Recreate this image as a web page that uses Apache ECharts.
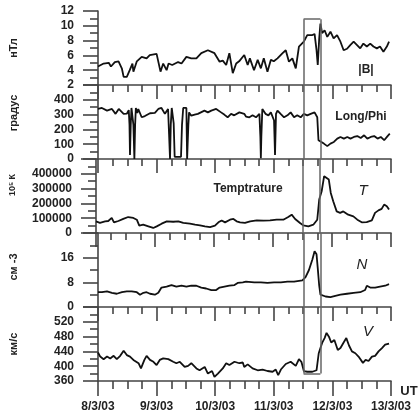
<!DOCTYPE html>
<html>
<head>
<meta charset="utf-8">
<script src="https://cdn.jsdelivr.net/npm/echarts/dist/echarts.min.js"></script>
<style>
  html, body { margin: 0; padding: 0; background: #fff; }
  #chart { width: 419px; height: 420px; }
</style>
</head>
<body>
<div id="chart"></div>
<script type="text/javascript">
// time axis: hours since 8/3/03 00:00 UT
var dateLabels = ['8/3/03', '9/3/03', '10/3/03', '11/3/03', '12/3/03', '13/3/03'];

// |B|, nT
var fieldB = [
  [0,4.5],[2.3,4.9],[4.4,5.0],[5.3,4.5],[6.9,5.1],[8.4,5.2],[9.8,4.2],[10.5,3.1],[11.8,3.1],[13.0,4.0],
  [14.1,4.9],[14.5,3.8],[15.9,5.2],[17.9,5.8],[19.9,5.6],[21.2,6.05],[24,6.2],[24.7,6.05],[25.6,3.8],[26.7,4.9],
  [28.1,4.0],[28.9,4.9],[30.4,4.7],[32.8,5.1],[34.2,4.9],[36.2,5.8],[38.2,5.6],[40.3,5.6],[42.3,6.3],[45,6.7],
  [45.7,6.6],[47.7,6.3],[49.8,5.15],[51.1,5.3],[52.5,4.7],[53.8,6.3],[55.2,3.6],[56.6,4.9],[57.8,5.2],[59.9,6.05],
  [61.3,4.7],[62.2,5.6],[63.9,4.0],[65.4,5.4],[66.7,4.25],[67.9,5.6],[69.4,3.8],[70.8,5.4],[72,5.2],[73.5,5.6],
  [75.6,6.3],[76.9,6.7],[78.2,5.15],[79.6,5.6],[81,4.25],[82.3,7.2],[84.3,7.85],[85.7,8.75],[87.8,8.75],[88.7,8.9],
  [89.5,6.7],[90,4.7],[90.6,8.3],[91.1,10.3],[91.8,9.0],[92.8,9.4],[93.9,8.5],[95.2,9.2],[96.5,8.3],[97.9,8.75],
  [99.3,7.85],[100.6,6.7],[102,6.9],[103.3,7.4],[104.7,7.85],[106.1,7.4],[107.4,6.95],[108.7,7.6],[110.1,7.2],[111.5,7.6],
  [112.8,7.2],[114.2,6.95],[115.5,7.2],[116.9,6.5],[118.3,7.2],[119.2,7.85]
];

// Long/Phi, degrees
var longPhi = [
  [0,338],[1.6,345],[3.7,327],[5.7,338],[7.2,305],[8.5,338],[10.5,305],[11.8,306],[12.6,330],[12.9,230],
  [13.1,27],[13.4,230],[13.7,345],[14.2,345],[14.5,230],[14.9,0],[15.2,230],[15.5,345],[16.1,310],[16.5,338],
  [17.9,282],[19.2,290],[21.3,309],[23.3,312],[24.7,338],[26,345],[27.4,305],[28.7,338],[29.3,338],[29.5,0],
  [29.8,230],[30.2,345],[30.8,345],[31.0,240],[31.4,15],[34.0,15],[34.4,230],[34.9,345],[36.2,345],[36.5,0],
  [37.0,230],[37.3,315],[38.2,293],[39.6,300],[40.9,305],[43.6,327],[45,315],[46.4,327],[48.4,338],[50.4,315],
  [51.7,300],[53.1,282],[54.5,305],[55.8,295],[57.9,315],[59.9,305],[60.6,287],[62.0,282],[63.3,295],[64.7,282],
  [66.1,305],[66.5,150],[66.7,5],[66.9,150],[67.3,338],[68.1,327],[68.6,305],[69.8,295],[70.8,315],[72.1,260],
  [72.5,27],[72.9,305],[73.5,327],[74.8,305],[76.2,282],[77.6,295],[78.9,315],[80.3,282],[81.6,295],[83,282],
  [84.3,305],[85.7,295],[87.1,305],[88.7,315],[89.5,327],[89.8,282],[90.3,127],[91.1,115],[92.5,104],[93.9,87],
  [95.2,104],[96.6,115],[98,138],[99.3,149],[100.7,138],[102.1,149],[103.4,138],[104.8,149],[106.2,155],[107.6,142],
  [109,160],[110.3,138],[111.7,149],[113.1,155],[114.5,138],[115.8,149],[117.2,127],[118.6,155],[119.5,171]
];

// temperature, K
var temperature = [
  [0,78000],[1.6,68000],[3.7,78600],[5.0,81000],[6.4,101700],[7.3,72000],[9.1,81000],[11.1,95000],[13.1,108000],[15.2,101700],
  [16.6,90000],[17.6,49500],[19.2,56000],[21.3,45000],[23.3,34000],[24.7,45000],[26.7,63000],[28.8,79000],[31.4,76000],[33.5,79000],
  [35.5,68000],[38.2,63000],[40.3,56000],[42.3,52000],[44.3,45000],[46.4,40000],[48.4,49500],[49.8,72000],[51.1,85000],[52.5,72000],
  [54.5,90000],[55.9,95000],[57.2,79000],[58.6,72000],[60.6,68000],[62.7,79000],[65.4,85000],[68.1,83000],[70.8,85000],[73.5,90000],
  [76.2,90000],[78.2,108000],[79.6,124000],[81,95000],[83,68000],[84.3,51500],[86.4,45000],[88.4,56000],[90,90000],[90.8,226000],
  [91.8,282000],[92.8,384000],[93.6,388000],[94.7,361000],[95.5,271000],[96.5,214000],[97.9,146000],[99.3,136000],[100.6,146000],[102.6,124000],
  [104.7,112000],[106.3,90000],[108.1,72000],[110.1,74000],[112.2,85000],[113.5,136000],[114.9,153000],[116.2,163000],[117.2,192000],[118.3,180000],
  [119.2,158000]
];

// density, cm^-3
var density = [
  [0,4.8],[1.6,4.8],[3.7,5.1],[5.7,4.6],[7.7,4.3],[9.8,4.8],[11.8,5.1],[13.8,5.1],[15.9,4.8],[17.2,4.0],
  [18.6,4.6],[19.9,4.8],[21.3,4.3],[23.3,4.0],[24.7,4.6],[26,6.3],[28.1,6.6],[30.1,7.1],[32.1,6.6],[34.2,6.9],
  [36.2,6.6],[38.2,6.9],[40.3,6.9],[42.3,6.3],[44.3,6.0],[46.4,5.5],[48.4,5.5],[49.8,6.3],[51.8,6.6],[53.8,6.9],
  [55.9,7.1],[57.2,7.8],[59.3,8.0],[60.6,8.2],[61.3,8.2],[64,8.0],[66.7,8.0],[69.4,7.8],[72.1,8.0],[74.9,8.0],
  [77.6,8.2],[80.3,8.2],[83.7,8.6],[85,9.7],[86.4,12.0],[87.8,15.4],[88.7,18.1],[89.5,17.1],[90,12.6],[90.6,6.9],
  [91.1,4.0],[93.2,3.4],[95.2,3.2],[97.2,3.6],[99.3,4.0],[102,4.3],[104.7,4.6],[107.4,4.8],[109.4,5.5],[110.1,6.9],
  [111.5,6.3],[113.5,6.3],[115.5,6.6],[117.6,6.9],[119.2,7.4]
];

// speed, km/s
var speed = [
  [0,437],[0.9,426],[2.3,419],[3.7,426],[5,421],[6.4,428],[7.7,419],[9.1,428],[10.5,442],[11.8,430],
  [13.1,426],[14.5,417],[16.6,408],[17.6,394],[19,417],[19.9,428],[21.3,417],[22.7,412],[24,403],[25.3,417],
  [26.7,421],[28.8,419],[30.8,412],[32.1,408],[33.5,412],[35.5,398],[36.9,401],[38.2,408],[40.3,394],[41.6,389],
  [43.7,398],[45,380],[46.7,387],[47.7,371],[49.1,380],[51.1,394],[52.5,408],[53.8,403],[55.9,412],[57.9,408],
  [59.3,410],[59.9,398],[61.3,405],[63.3,394],[65.4,389],[67.4,391],[69.4,387],[71.5,385],[72.8,391],[73.8,376],
  [74.9,391],[76.9,406],[78.9,412],[81,401],[82.3,419],[83.3,412],[84.3,387],[85.7,385],[87.8,385],[89.5,389],
  [90.4,435],[91.8,463],[92.8,476],[93.6,490],[94.7,478],[95.5,464],[96.8,471],[98.2,444],[99.3,449],[100.6,464],
  [101.7,476],[102.8,456],[104,440],[105.4,435],[106.7,426],[108.5,409],[109.6,417],[110.8,414],[112.2,426],[113.5,428],
  [114.9,440],[116.3,449],[117.6,458],[119.2,461]
];

// marked interval (hours) and the box's top / bottom values
var boxHours = [84.2, 91.1];
var boxTopB = 10.9;
var boxBottomV = 380;

var panelNames = ['нТл', 'градус', '10⁵ К', 'см -3', 'км/с'];
var panelMin = [2, 0, 0, 0, 360];
var panelMax = [12, 500, 500000, 24, 560];
var panelStep = [2, 100, 100000, 8, 40];
var panelData = [fieldB, longPhi, temperature, density, speed];
// nudge some axis names upward (left padding of the rotated text)
var nameShift = [0, 18, 22, 6, 0];

var chart = echarts.init(document.getElementById('chart'));

var ink = '#111';
var axisGray = '#444';
var font = 'Liberation Sans';

var grids = [], xAxes = [], yAxes = [], series = [];
for (var i = 0; i < 5; i++) {
  var last = (i === 4);
  grids.push({ left: 96, width: 295, top: 11 + i * 74, height: 74 });
  xAxes.push({
    type: 'value', gridIndex: i, min: 0, max: 120, interval: 24,
    axisLine: { show: true, lineStyle: { color: axisGray, width: 1.6 } },
    axisTick: { show: true, length: last ? 15 : 14, lineStyle: { color: axisGray, width: 1.6 } },
    minorTick: { show: true, splitNumber: 4, length: last ? 8 : 7, lineStyle: { color: axisGray, width: 1.6 } },
    splitLine: { show: false },
    axisLabel: {
      show: last, margin: 20, color: '#222', fontFamily: font, fontWeight: 'bold', fontSize: 12,
      formatter: function (v) { return dateLabels[Math.round(v / 24)] || ''; }
    }
  });
  yAxes.push({
    type: 'value', gridIndex: i, min: panelMin[i], max: panelMax[i], interval: panelStep[i],
    name: panelNames[i], nameLocation: 'middle', nameGap: 79,
    nameTextStyle: {
      color: '#222', fontFamily: font, fontWeight: 'bold', fontSize: i === 2 ? 9 : 11,
      padding: [0, 0, 0, nameShift[i]]
    },
    axisLine: { show: true, lineStyle: { color: axisGray, width: 1.6 } },
    axisTick: { show: true, length: 15, lineStyle: { color: axisGray, width: 1.6 } },
    minorTick: { show: true, splitNumber: 2, length: 8, lineStyle: { color: axisGray, width: 1.6 } },
    splitLine: { show: false },
    axisLabel: {
      margin: 24, color: '#222', fontFamily: font, fontWeight: 'bold', fontSize: 12,
      showMaxLabel: i === 0,
      formatter: function (v) { return String(v); }
    }
  });

  var ml;
  if (i === 0) {
    ml = [
      [{ coord: [boxHours[0], boxTopB] }, { coord: [boxHours[0], panelMin[0]] }],
      [{ coord: [boxHours[1], boxTopB] }, { coord: [boxHours[1], panelMin[0]] }],
      [{ coord: [boxHours[0], boxTopB] }, { coord: [boxHours[1], boxTopB] }]
    ];
  } else if (last) {
    ml = [
      [{ coord: [boxHours[0], panelMax[4]] }, { coord: [boxHours[0], boxBottomV] }],
      [{ coord: [boxHours[1], panelMax[4]] }, { coord: [boxHours[1], boxBottomV] }],
      [{ coord: [boxHours[0], boxBottomV] }, { coord: [boxHours[1], boxBottomV] }]
    ];
  } else {
    ml = [
      [{ coord: [boxHours[0], panelMin[i]] }, { coord: [boxHours[0], panelMax[i]] }],
      [{ coord: [boxHours[1], panelMin[i]] }, { coord: [boxHours[1], panelMax[i]] }]
    ];
  }

  series.push({
    type: 'line', xAxisIndex: i, yAxisIndex: i, data: panelData[i],
    showSymbol: false, symbol: 'none', smooth: false,
    lineStyle: { color: ink, width: 1.8 },
    markLine: {
      silent: true, symbol: 'none', label: { show: false },
      lineStyle: { color: '#666', width: 1.5, type: 'solid' },
      data: ml
    }
  });
}

function note(text, x, y, opts) {
  opts = opts || {};
  return {
    type: 'text', x: x, y: y, silent: true,
    style: {
      text: text, fill: '#222', fontFamily: font,
      fontSize: opts.size || 12, fontWeight: opts.italic ? 'normal' : 'bold',
      fontStyle: opts.italic ? 'italic' : 'normal',
      textAlign: 'center', textVerticalAlign: 'middle'
    }
  };
}

option = {
  animation: false,
  backgroundColor: '#fff',
  grid: grids,
  xAxis: xAxes,
  yAxis: yAxes,
  series: series,
  graphic: [
    note('|B|', 366, 70),
    note('Long/Phi', 361, 117),
    note('Temptrature', 248, 189),
    note('T', 363, 191, { italic: true, size: 15 }),
    note('N', 362, 265, { italic: true, size: 15 }),
    note('V', 368, 332, { italic: true, size: 15 }),
    note('UT', 409, 391, { size: 13 })
  ]
};
chart.setOption(option);
</script>
</body>
</html>
